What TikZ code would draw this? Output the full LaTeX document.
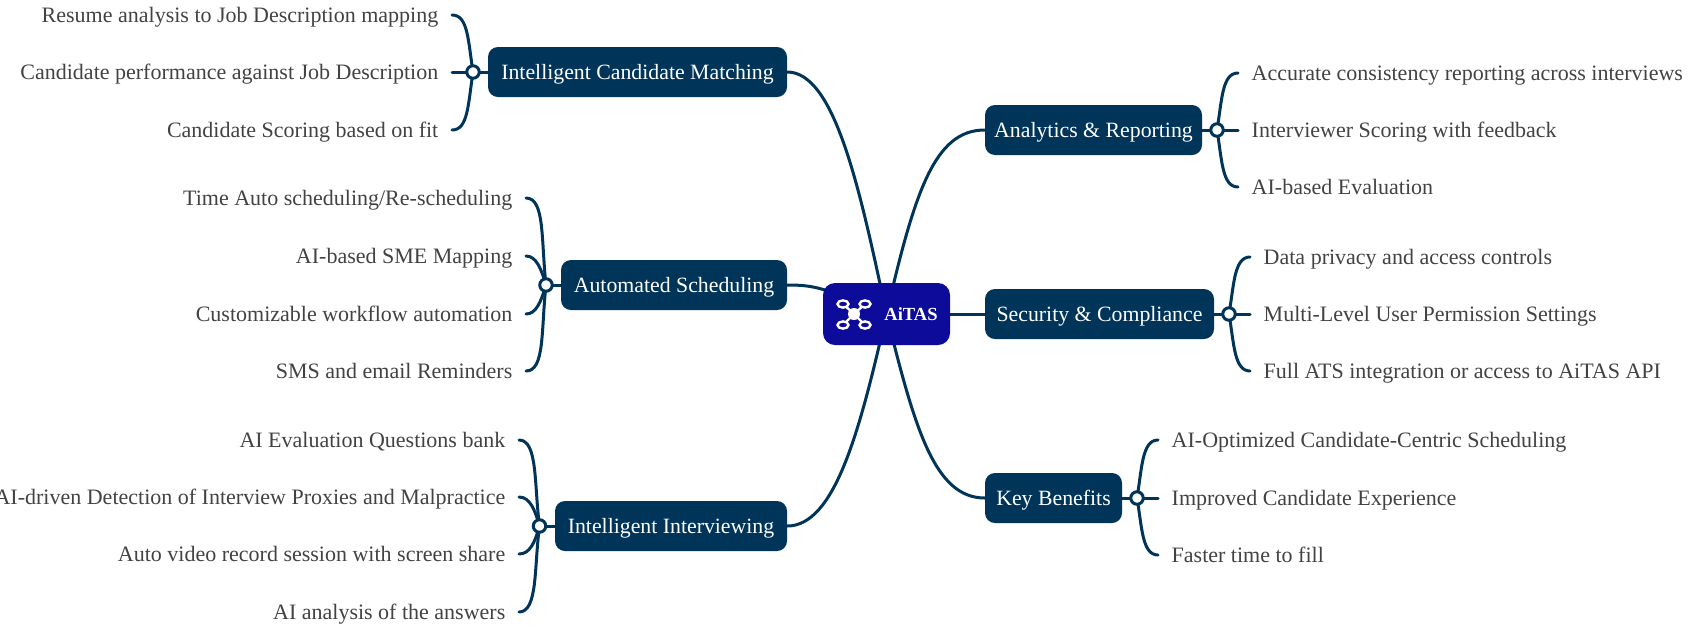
\documentclass[tikz,border=0pt]{standalone}
\usepackage{fontspec}
\setmainfont{Liberation Serif}
\usetikzlibrary{backgrounds}
\definecolor{navy}{HTML}{003459}
\definecolor{rootblue}{HTML}{0D0B9A}
\definecolor{leaftxt}{HTML}{424242}
\tikzset{
  every picture/.style={x=1pt,y=-1pt},
  branch/.style={fill=navy,rounded corners=10pt,text=white,font=\fontsize{21.8}{24}\selectfont,minimum height=50pt,inner xsep=0pt,inner ysep=0pt,text height=14pt,text depth=0pt,align=center},
  rootnode/.style={fill=rootblue,rounded corners=12pt,minimum width=127pt,minimum height=62pt,inner sep=0pt},
  leaf/.style={text=leaftxt,font=\fontsize{22}{24}\selectfont,inner xsep=13.5pt,inner ysep=0pt,text height=14pt,text depth=0pt},
  leafL/.style={leaf,anchor=east},
  leafR/.style={leaf,anchor=west},
  dotnode/.style={circle,draw=navy,fill=white,line width=3pt,minimum size=12.5pt,inner sep=0pt},
  conn/.style={draw=navy,line width=3pt,line cap=round},
  icon/.style={draw=white,line width=2.4pt},
}
\begin{document}
\begin{tikzpicture}
\useasboundingbox (0,0) rectangle (1696,641);
% root
\node[rootnode] (root) at (886.5,314) {};
\node[text=white,font=\bfseries\fontsize{18.5}{22}\selectfont,inner sep=0pt] (roottxt) at (911,314) {AiTAS};
\draw[icon] (854,314) -- (843,304) (854,314) -- (865,304) (854,314) -- (843,325) (854,314) -- (865,325);
\draw[icon,fill=rootblue] (843,304) ellipse [x radius=5.5,y radius=3.6];
\draw[icon,fill=rootblue] (865,304) ellipse [x radius=5.5,y radius=3.6];
\draw[icon,fill=rootblue] (843,325) ellipse [x radius=5.5,y radius=3.6];
\draw[icon,fill=rootblue] (865,325) ellipse [x radius=5.5,y radius=3.6];
\fill[white] (854,314) circle (6);
% branches
\node[branch,minimum width=299pt] (match) at (637.5,72) {Intelligent Candidate Matching};
\node[branch,minimum width=226pt] (sched) at (674,285) {Automated Scheduling};
\node[branch,minimum width=232pt] (inter) at (671,526) {Intelligent Interviewing};
\node[branch,minimum width=217pt] (anal) at (1093.5,130) {Analytics \& Reporting};
\node[branch,minimum width=229pt] (secu) at (1099.5,314) {Security \& Compliance};
\node[branch,minimum width=137pt] (bene) at (1053.5,498) {Key Benefits};
% hubs
\node[dotnode] (dm) at (473,72) {};
\node[dotnode] (ds) at (546,285) {};
\node[dotnode] (di) at (539.5,526) {};
\node[dotnode] (da) at (1217,130) {};
\node[dotnode] (dc) at (1229,314) {};
\node[dotnode] (db) at (1137,498) {};
% leaves
\node[leafL] (m1) at (452,15) {Resume analysis to Job Description mapping};
\node[leafL] (m2) at (452,72) {Candidate performance against Job Description};
\node[leafL] (m3) at (452,130) {Candidate Scoring based on fit};
\node[leafL] (s1) at (526,198) {Time Auto scheduling/Re-scheduling};
\node[leafL] (s2) at (526,256) {AI-based SME Mapping};
\node[leafL] (s3) at (526,314) {Customizable workflow automation};
\node[leafL] (s4) at (526,371) {SMS and email Reminders};
\node[leafL] (i1) at (519,440) {AI Evaluation Questions bank};
\node[leafL] (i2) at (519,497) {AI-driven Detection of Interview Proxies and Malpractice};
\node[leafL] (i3) at (519,554) {Auto video record session with screen share};
\node[leafL] (i4) at (519,612) {AI analysis of the answers};
\node[leafR] (a1) at (1238,73) {Accurate consistency reporting across interviews};
\node[leafR] (a2) at (1238,130) {Interviewer Scoring with feedback};
\node[leafR] (a3) at (1238,187) {AI-based Evaluation};
\node[leafR] (c1) at (1250,257) {Data privacy and access controls};
\node[leafR] (c2) at (1250,314) {Multi-Level User Permission Settings};
\node[leafR] (c3) at (1250,371) {Full ATS integration or access to AiTAS API};
\node[leafR] (b1) at (1158,440) {AI-Optimized Candidate-Centric Scheduling};
\node[leafR] (b2) at (1158,498) {Improved Candidate Experience};
\node[leafR] (b3) at (1158,555) {Faster time to fill};
\begin{scope}[on background layer]
% main edges
\draw[conn] (match.east) .. controls (835,72) and (860,190) .. (root.center);
\draw[conn] (sched.east) .. controls (815,285) and (825,288) .. (root.center);
\draw[conn] (inter.east) .. controls (835,526) and (860,430) .. (root.center);
\draw[conn] (anal.west) .. controls (935,130) and (915,190) .. (root.center);
\draw[conn] (secu.west) -- (root.center);
\draw[conn] (bene.west) .. controls (935,498) and (915,430) .. (root.center);
% hub stubs
\foreach \d/\b in {dm/match,ds/sched,di/inter,da/anal,dc/secu,db/bene}
  \draw[conn] (\d.center) -- (\b);
% brackets left
\draw[conn] (m1.east) .. controls (468,15) and (468,40) .. (dm.center);
\draw[conn] (m2.east) -- (dm.center);
\draw[conn] (m3.east) .. controls (468,130) and (468,105) .. (dm.center);
\draw[conn] (s1.east) .. controls (545,198) and (541,240) .. (ds.center);
\draw[conn] (s2.east) .. controls (536,256) and (541,268) .. (ds.center);
\draw[conn] (s3.east) .. controls (536,314) and (541,302) .. (ds.center);
\draw[conn] (s4.east) .. controls (545,371) and (541,330) .. (ds.center);
\draw[conn] (i1.east) .. controls (538,440) and (534,485) .. (di.center);
\draw[conn] (i2.east) .. controls (530,497) and (535,510) .. (di.center);
\draw[conn] (i3.east) .. controls (530,554) and (535,542) .. (di.center);
\draw[conn] (i4.east) .. controls (538,612) and (534,567) .. (di.center);
% brackets right
\draw[conn] (a1.west) .. controls (1222,73) and (1222,100) .. (da.center);
\draw[conn] (a2.west) -- (da.center);
\draw[conn] (a3.west) .. controls (1222,187) and (1222,160) .. (da.center);
\draw[conn] (c1.west) .. controls (1234,257) and (1234,285) .. (dc.center);
\draw[conn] (c2.west) -- (dc.center);
\draw[conn] (c3.west) .. controls (1234,371) and (1234,343) .. (dc.center);
\draw[conn] (b1.west) .. controls (1142,440) and (1142,468) .. (db.center);
\draw[conn] (b2.west) -- (db.center);
\draw[conn] (b3.west) .. controls (1142,555) and (1142,527) .. (db.center);
\end{scope}
\end{tikzpicture}
\end{document}
